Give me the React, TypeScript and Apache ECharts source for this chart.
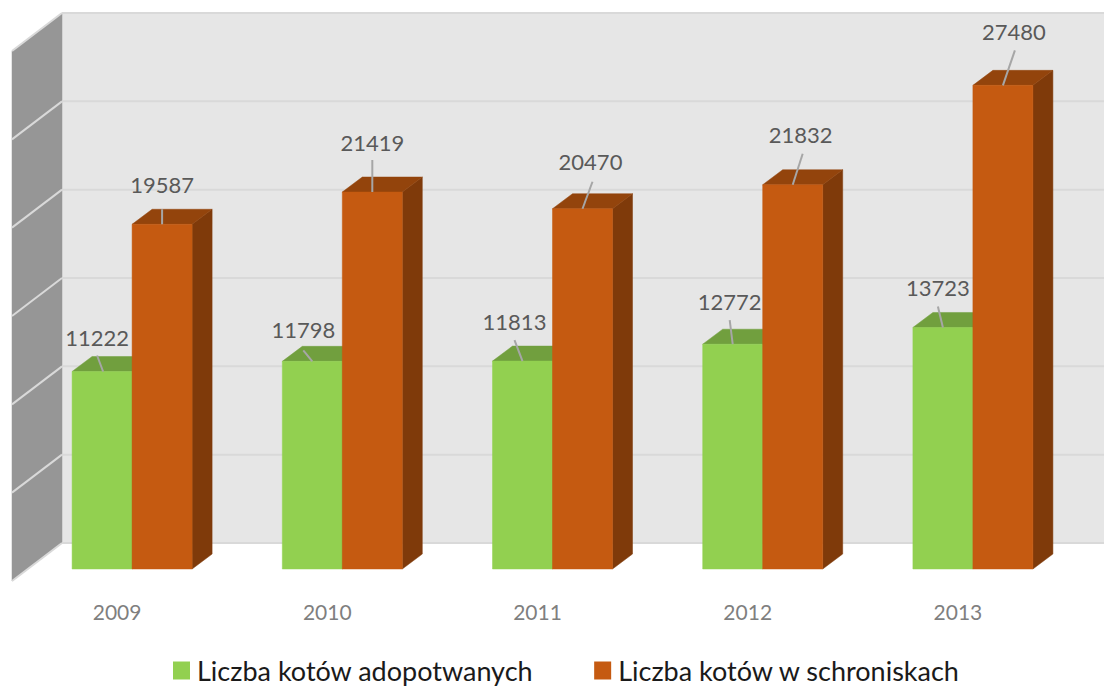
import React, { useEffect, useRef } from "react";
import * as echarts from "echarts";

const years = ["2009", "2010", "2011", "2012", "2013"];
const adopted = [11222, 11798, 11813, 12772, 13723];
const sheltered = [19587, 21419, 20470, 21832, 27480];
const wallTicks = [0, 5000, 10000, 15000, 20000, 25000, 30000];
const nameAdopted = "Liczba kotów adopotwanych";
const nameSheltered = "Liczba kotów w schroniskach";

// Leader-line layout relative to each bar's top centre: [labelDx, labelDy, startDx, startDy, anchorDx]
const adoptedLeaders = [
  [-5, -34, -5, -16, 1],
  [-9, -32, -9, -11, 0],
  [-8, -40, -8, -21, 0],
  [-3, -43, -3, -24, 0],
  [-5, -40, -5, -21, 0],
];
const shelteredLeaders = [
  [0, -40, 0, -15, 0],
  [0, -50, 0, -32, 0],
  [8, -47, 10, -27, 0],
  [8, -50, 10, -31, 0],
  [11, -54, 12, -35, 0],
];

const FONT = "Lato, Carlito, 'Open Sans', sans-serif";
const BAR_W_RATIO = 60 / 210.2;
const DX = 20;
const DY = 15;

function poly(points: number[][], fill: string, z = 0) {
  return { type: "polygon", z2: z, shape: { points }, style: { fill, stroke: fill, lineWidth: 0.5 } };
}

function barSeries(
  name: string,
  values: number[],
  side: -1 | 1,
  colors: string[],
  leaders: number[][],
  z: number
) {
  return {
    name,
    type: "custom",
    z,
    itemStyle: { color: colors[0] },
    data: values.map((v, i) => [i, v]),
    encode: { x: 0, y: 1 },
    renderItem: (_p: any, api: any) => {
      const i = api.value(0);
      const v = api.value(1);
      const top = api.coord([i, v]);
      const base = api.coord([i, 0]);
      const w = api.size([1, 0])[0] * BAR_W_RATIO;
      const x0 = side < 0 ? top[0] - w : top[0];
      const x1 = x0 + w;
      const y0 = top[1];
      const y1 = base[1];
      const cx = (x0 + x1) / 2;
      const [lx, ly, sx, sy, ax] = leaders[i];
      return {
        type: "group",
        children: [
          poly([[x1, y0], [x1 + DX, y0 - DY], [x1 + DX, y1 - DY], [x1, y1]], colors[2]),
          poly([[x0, y0], [x0 + DX, y0 - DY], [x1 + DX, y0 - DY], [x1, y0]], colors[1]),
          poly([[x0, y0], [x1, y0], [x1, y1], [x0, y1]], colors[0]),
          {
            type: "line",
            z2: 5,
            shape: { x1: cx + sx, y1: y0 + sy, x2: cx + ax, y2: y0 },
            style: { stroke: "#a6a6a6", lineWidth: 2 },
          },
          {
            type: "text",
            z2: 6,
            style: {
              x: cx + lx,
              y: y0 + ly,
              text: String(v),
              fill: "#595959",
              fontSize: 22,
              fontFamily: FONT,
              align: "center",
              verticalAlign: "middle",
            },
          },
        ],
      };
    },
  };
}

export default function App() {
  const ref = useRef<HTMLDivElement>(null);
  useEffect(() => {
    document.body.style.margin = "0";
    document.body.style.overflow = "hidden";
    const chart = echarts.init(ref.current!, undefined, { renderer: "svg" });
    const wallSeries = {
      type: "custom",
      z: 1,
      silent: true,
      legendHoverLink: false,
      data: wallTicks.map((t) => [0, t]),
      encode: { x: 0, y: 1 },
      renderItem: (params: any, api: any) => {
        const cs = params.coordSys;
        const baseY = api.coord([0, 0])[1];
        const y = api.coord([0, api.value(1)])[1];
        const k = 530 / 528;
        const rise = (baseY - y) * k;
        const backX = cs.x + 35;
        const frontX = cs.x - 15;
        const endX = cs.x + cs.width + 30;
        const backBase = baseY - 26;
        const frontBase = baseY + 12;
        const children: any[] = [];
        if (params.dataIndex === 0) {
          const topRise = (baseY - cs.y) * k;
          children.push(
            {
              type: "rect",
              z2: 0,
              shape: { x: backX, y: backBase - topRise, width: endX - backX, height: topRise },
              style: { fill: "#e6e6e6" },
            },
            poly(
              [
                [frontX, frontBase - topRise],
                [backX, backBase - topRise],
                [backX, backBase],
                [frontX, frontBase],
              ],
              "#969696"
            )
          );
        }
        children.push(
          {
            type: "line",
            z2: 1,
            shape: { x1: backX, y1: backBase - rise, x2: endX, y2: backBase - rise },
            style: { stroke: "#d9d9d9", lineWidth: 2 },
          },
          {
            type: "line",
            z2: 1,
            shape: { x1: frontX, y1: frontBase - rise, x2: backX, y2: backBase - rise },
            style: { stroke: "#d9d9d9", lineWidth: 2 },
          }
        );
        return { type: "group", children };
      },
    };
    chart.setOption({
      animation: false,
      backgroundColor: "#ffffff",
      grid: { left: 27, right: 26, top: 41, bottom: 118 },
      xAxis: {
        type: "category",
        data: years,
        axisLine: { show: false },
        axisTick: { show: false },
        axisLabel: {
          color: "#7f7f7f",
          fontSize: 21,
          fontFamily: FONT,
          margin: 32,
          padding: [0, 30, 0, 0],
        },
      },
      yAxis: {
        type: "value",
        min: 0,
        max: 30000,
        interval: 5000,
        axisLine: { show: false },
        axisTick: { show: false },
        axisLabel: { show: false },
        splitLine: { show: false },
      },
      legend: {
        left: 173,
        top: 657,
        padding: 0,
        icon: "rect",
        itemWidth: 17,
        itemHeight: 18,
        itemGap: 61,
        itemStyle: { borderWidth: 0 },
        textStyle: { color: "#1a1a1a", fontSize: 27, fontFamily: FONT, padding: [0, 0, 0, 2] },
        data: [nameAdopted, nameSheltered],
      },
      series: [
        wallSeries,
        barSeries(nameAdopted, adopted, -1, ["#92d050", "#719f3e", "#5f8a32"], adoptedLeaders, 2),
        barSeries(nameSheltered, sheltered, 1, ["#c55a11", "#93440c", "#7f3a0a"], shelteredLeaders, 3),
      ],
    });
    return () => chart.dispose();
  }, []);
  return <div ref={ref} style={{ width: 1104, height: 687 }} />;
}
